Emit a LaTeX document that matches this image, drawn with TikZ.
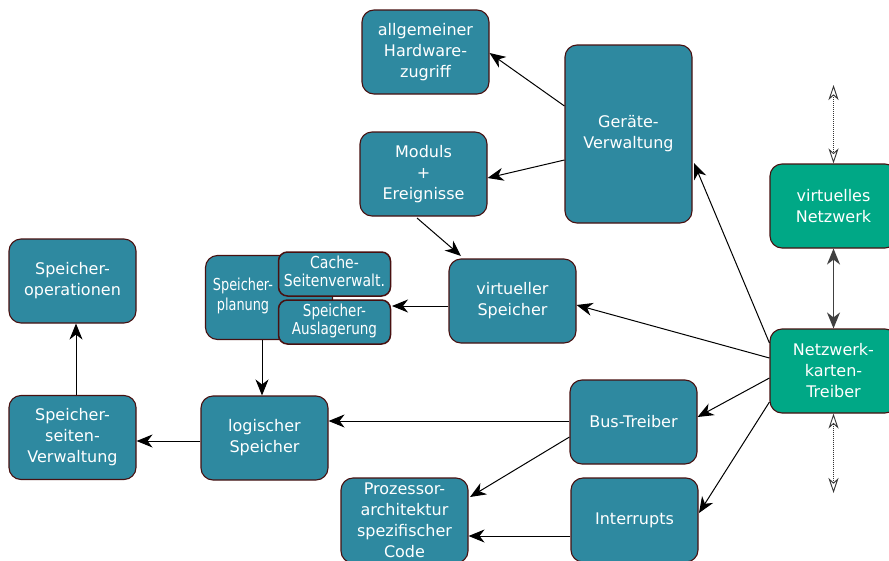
\documentclass[tikz,border=0pt]{standalone}
\usepackage{fontspec}
\setmainfont{DejaVu Sans}
\usetikzlibrary{arrows.meta}
\definecolor{boxteal}{RGB}{46,137,160}
\definecolor{boxgreen}{RGB}{0,168,134}
\definecolor{boxedge}{RGB}{72,16,16}
\begin{document}
\begin{tikzpicture}[x=1pt,y=-1pt,
  box/.style={draw=boxedge, line width=1.1pt, fill=boxteal, rounded corners=12pt,
    text=white, align=center, inner sep=0pt,
    minimum width=127pt, minimum height=84pt,
    font=\fontsize{16}{21}\selectfont},
  netbox/.style={box, fill=boxgreen},
  smallbox/.style={box, minimum width=112pt, minimum height=44pt, rounded corners=9pt,
    line width=1.5pt, font=\fontsize{16.5}{19.5}\selectfont},
  flow/.style={draw=black, line width=1pt, -{Stealth[length=16pt,width=13pt,inset=5pt]}},
  twoway/.style={draw=black!75, line width=1.2pt, {Stealth[length=16pt,width=13pt,inset=5pt]}-{Stealth[length=16pt,width=13pt,inset=5pt]}},
  dotlink/.style={draw=black!80, line width=1pt, densely dotted,
    {Stealth[open,length=15pt,width=10pt,inset=4.5pt,line width=0.9pt]}-{Stealth[open,length=15pt,width=10pt,inset=4.5pt,line width=0.9pt]}}
]
\clip (0,0) rectangle (889,560);
\fill[white] (0,0) rectangle (889,560);

% upper group
\node[box] (allg) at (425.5,52) {allgemeiner\\Hardware-\\zugriff};
\node[box, minimum height=178pt] (geraete) at (628.5,134) {Geräte-\\Verwaltung};
\node[box] (modul) at (423.5,174) {Moduls\\+\\Ereignisse};
\node[netbox] (vnetz) at (833.5,206) {virtuelles\\Netzwerk};

% memory group
\node[box] (sop) at (72.5,281) {Speicher-\\operationen};
\node[box] (plan) at (269,297.5) {};
\node (planlabel) at (243,296) {\color{white}\fontsize{16.5}{21}\selectfont
  \scalebox{0.78}[1]{\begin{tabular}{@{}c@{}}Speicher-\\[-1pt]planung\end{tabular}}};
\node[smallbox] (cache) at (334.5,274) {\scalebox{0.85}[1]{\begin{tabular}{@{}c@{}}Cache-\\[-1.5pt]Seitenverwalt.\end{tabular}}};
\node[smallbox] (ausl) at (334.5,322) {\scalebox{0.82}[1]{\begin{tabular}{@{}c@{}}Speicher-\\[-1.5pt]Auslagerung\end{tabular}}};
\coordinate (planeast) at (392,306);
\node[box] (vsp) at (512.5,301) {virtueller\\Speicher};
\node[netbox] (ntreiber) at (833.5,371) {Netzwerk-\\karten-\\Treiber};

% lower group
\node[box] (sseiten) at (72.5,437.5) {Speicher-\\seiten-\\Verwaltung};
\node[box] (logsp) at (264.5,438) {logischer\\Speicher};
\node[box] (bus) at (633.5,422) {Bus-Treiber};
\node[box, minimum height=85pt] (proz) at (404.5,520.5) {Prozessor-\\architektur\\spezifischer\\Code};
\node[box] (irq) at (634.5,520) {Interrupts};

% free ends of the dotted links
\coordinate (nettop) at (833.5,85);
\coordinate (netbot) at (833.5,493);

% connectors
\draw[flow] (geraete.west |- 0,106) -- (allg.east |- 0,53);
\draw[flow] (geraete.west |- 0,160) -- (modul.east |- 0,178);
\draw[flow] (417,218) -- (461,256);
\draw[flow] (vsp.west |- 0,306) -- (planeast);
\draw[flow] (plan.south -| 262,0) -- (logsp.north -| 262,0);
\draw[flow] (ntreiber.west |- 0,343) -- (694,163);
\draw[flow] (ntreiber.west |- 0,358) -- (vsp.east |- 0,305);
\draw[flow] (ntreiber.west |- 0,378) -- (bus.east |- 0,417);
\draw[flow] (ntreiber.west |- 0,402) -- (699,513);
\draw[flow] (bus.west |- 0,421) -- (logsp.east |- 0,421);
\draw[flow] (bus.west |- 0,437) -- (470,497);
\draw[flow] (irq.west |- 0,536) -- (proz.east |- 0,536);
\draw[flow] (logsp.west |- 0,441) -- (sseiten.east |- 0,441);
\draw[flow] (sseiten.north -| 76,0) -- (sop.south -| 76,0);
\draw[twoway] (vnetz.south) -- (ntreiber.north);
\draw[dotlink] (nettop) -- (vnetz.north);
\draw[dotlink] (ntreiber.south) -- (netbot);
\end{tikzpicture}
\end{document}
